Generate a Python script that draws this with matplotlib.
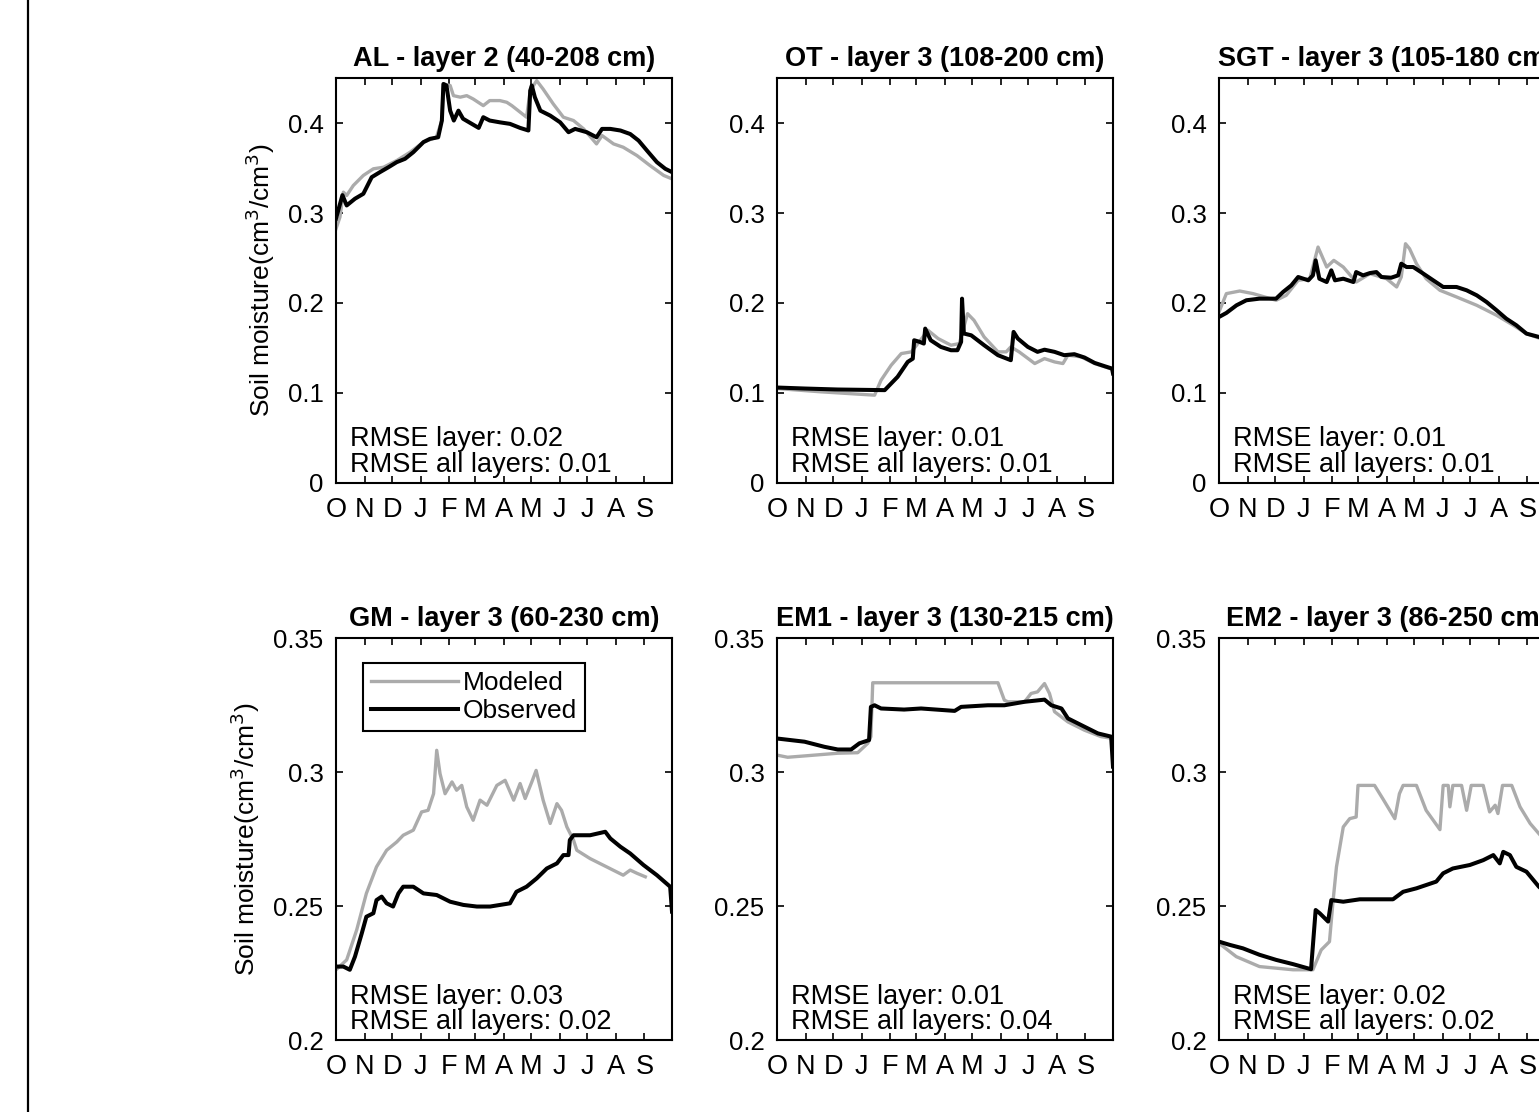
import matplotlib
matplotlib.use("Agg")
import matplotlib.pyplot as plt
from matplotlib.lines import Line2D
from matplotlib.ticker import FuncFormatter

plt.rcParams['font.family'] = ['Liberation Sans', 'DejaVu Sans']

# ---------------- data (day of water year, 0 = 1 Oct) ----------------
month_ticks = [0, 31, 61, 92, 123, 151, 182, 212, 243, 273, 304, 335]
month_labels = ['O', 'N', 'D', 'J', 'F', 'M', 'A', 'M', 'J', 'J', 'A', 'S']

titles = ['AL - layer 2 (40-208 cm)', 'OT - layer 3 (108-200 cm)', 'SGT - layer 3 (105-180 cm)',
          'GM - layer 3 (60-230 cm)', 'EM1 - layer 3 (130-215 cm)', 'EM2 - layer 3 (86-250 cm)']
rmse_layer = ['0.02', '0.01', '0.01', '0.03', '0.01', '0.02']
rmse_all = ['0.01', '0.01', '0.01', '0.02', '0.04', '0.02']

# AL
al_obs_d = [0, 7, 11.6, 20.6, 29.7, 38.8, 47.8, 56.9, 66, 75, 84, 95, 102, 111, 115, 116.7, 120, 124, 128,
            133, 138, 147.5, 155, 160, 167, 178, 189, 200, 209, 211, 212.7, 216, 222, 232.7, 243.5, 252.6,
            259.8, 272.5, 283, 289, 298, 309, 319.6, 328.7, 337.8, 348.6, 357.7, 365]
al_obs_v = [0.294, 0.320, 0.3085, 0.316, 0.3215, 0.340, 0.3456, 0.351, 0.3567, 0.3604, 0.3678, 0.379,
            0.3826, 0.3844, 0.403, 0.4437, 0.442, 0.414, 0.403, 0.414, 0.405, 0.3993, 0.3948, 0.4067, 0.403,
            0.401, 0.3993, 0.3948, 0.3919, 0.4363, 0.442, 0.429, 0.414, 0.4085, 0.401, 0.390, 0.3937, 0.390,
            0.3844, 0.3937, 0.3937, 0.3919, 0.388, 0.3807, 0.3696, 0.3567, 0.3493, 0.3456]
al_mod_d = [0, 4.3, 8, 11.6, 18.8, 29.7, 40.6, 51.5, 66, 80.5, 95, 109, 115, 116.7, 124, 127.6, 135, 142,
            149, 160, 167, 178, 185.5, 191, 207, 211, 218, 225, 236, 247, 258, 269, 283, 289, 301.5, 312,
            327, 341, 356, 365]
al_mod_v = [0.2826, 0.2956, 0.3233, 0.3196, 0.3307, 0.3419, 0.3493, 0.351, 0.3585, 0.3678, 0.379, 0.3844,
            0.403, 0.4437, 0.442, 0.4307, 0.429, 0.4307, 0.427, 0.4196, 0.4252, 0.4252, 0.4233, 0.4196,
            0.4067, 0.4363, 0.4474, 0.438, 0.4215, 0.4067, 0.403, 0.3937, 0.377, 0.3863, 0.377, 0.3733,
            0.364, 0.353, 0.3419, 0.3381]

# OT
ot_obs_d = [0, 30, 66, 117, 131, 142, 147.5, 149, 155, 159.5, 161, 167, 178, 189, 196, 200, 201, 203, 211,
            225, 240, 254, 257, 261.6, 272.5, 283, 290.6, 301.5, 312, 323, 334, 345, 356, 364, 365]
ot_obs_v = [0.1059, 0.1048, 0.1037, 0.103, 0.1178, 0.1344, 0.138, 0.1585, 0.1567, 0.1548, 0.1715, 0.1585,
            0.1511, 0.1474, 0.1474, 0.1567, 0.2048, 0.166, 0.164, 0.153, 0.1419, 0.1363, 0.1678, 0.1604,
            0.1511, 0.1456, 0.148, 0.1456, 0.1419, 0.143, 0.1393, 0.1333, 0.1296, 0.127, 0.1215]
ot_mod_d = [0, 48, 106, 113, 124, 135, 146, 153, 164, 175, 189, 198, 207, 214, 225, 240, 249, 254, 263,
            280, 290.6, 301.5, 310.6, 316, 330.5, 345, 365]
ot_mod_v = [0.1048, 0.1011, 0.0974, 0.114, 0.1307, 0.1437, 0.1456, 0.1548, 0.1696, 0.1604, 0.153, 0.1548,
            0.1881, 0.1807, 0.1622, 0.1456, 0.1456, 0.1511, 0.1456, 0.1326, 0.1381, 0.1344, 0.1326, 0.1419,
            0.140, 0.1326, 0.126]

# SGT
sgt_obs_d = [0, 8, 19, 29.7, 44, 62, 69.6, 78.6, 86, 97, 102, 105, 109, 117, 122, 126, 135, 146, 149,
             156.5, 164, 171, 176.5, 187, 194.6, 198, 203.7, 211, 222, 232.7, 243.5, 258, 269, 280, 290.6,
             301.5, 312, 323, 334, 347.5, 365]
sgt_obs_v = [0.1844, 0.1889, 0.1974, 0.203, 0.2048, 0.2048, 0.2122, 0.2196, 0.2289, 0.2252, 0.2307,
             0.2474, 0.227, 0.2233, 0.2363, 0.2252, 0.227, 0.2233, 0.2344, 0.2307, 0.2333, 0.2344, 0.2289,
             0.2281, 0.2307, 0.2437, 0.240, 0.240, 0.2326, 0.2252, 0.2178, 0.2178, 0.2141, 0.2085, 0.2011,
             0.1919, 0.1826, 0.1752, 0.1659, 0.1622, 0.158]
sgt_mod_d = [0, 8, 22.5, 37, 62, 73, 86, 98.6, 107.6, 117, 124.7, 135, 149, 164, 182, 193, 198, 202.6,
             207, 214.5, 225, 240, 258, 280, 301.5, 319.6, 334, 347.5, 365]
sgt_mod_v = [0.190, 0.2104, 0.2133, 0.2104, 0.203, 0.2085, 0.2252, 0.227, 0.2622, 0.240, 0.2474, 0.240,
             0.2233, 0.2326, 0.227, 0.2178, 0.2289, 0.2659, 0.2604, 0.2437, 0.227, 0.2141, 0.2067, 0.1974,
             0.1863, 0.1752, 0.1659, 0.161, 0.156]

# GM
gm_obs_d = [0, 8, 15, 20.6, 28, 33, 40.6, 44, 49.6, 55, 62, 67.8, 73, 84, 95, 109.4, 124, 138.4, 153,
            167.4, 189, 196, 207, 218, 229, 240, 247, 252.6, 254, 258, 276, 292.5, 298, 309, 319.6, 334,
            348.6, 363, 365]
gm_obs_v = [0.2274, 0.2274, 0.2262, 0.2311, 0.2398, 0.246, 0.2473, 0.2522, 0.2535, 0.251, 0.2498, 0.2547,
            0.2572, 0.2572, 0.2547, 0.2541, 0.2516, 0.2504, 0.2498, 0.2498, 0.251, 0.2553, 0.2572, 0.2603,
            0.264, 0.2659, 0.269, 0.269, 0.2746, 0.2764, 0.2764, 0.2777, 0.2752, 0.2721, 0.2696, 0.2653,
            0.2615, 0.2572, 0.2479]
gm_mod_d = [0, 11.6, 22.5, 33, 44, 55, 66, 73, 84, 93, 100, 106, 109.4, 113, 118.5, 126, 131, 136.6, 142,
            149, 156.5, 164, 174.7, 183.7, 193, 200, 205.5, 212.7, 217.4, 225, 232.7, 240, 245, 250.8, 258,
            261.6, 276, 294, 312, 319.6, 327, 336]
gm_mod_v = [0.2262, 0.2299, 0.2411, 0.2547, 0.2646, 0.2708, 0.2739, 0.2764, 0.2783, 0.2851, 0.2857,
            0.2919, 0.3081, 0.2994, 0.2919, 0.2963, 0.2932, 0.295, 0.287, 0.282, 0.2895, 0.2876, 0.295,
            0.2969, 0.2895, 0.2957, 0.2901, 0.2963, 0.3006, 0.2895, 0.2808, 0.2882, 0.2857, 0.2795, 0.2746,
            0.2708, 0.2677, 0.2646, 0.2615, 0.2634, 0.2622, 0.2609]

# EM1
em1_obs_d = [0, 30, 51.5, 66, 80.5, 89.5, 100, 102, 106, 113, 138, 156.5, 193, 200, 229, 247, 269, 290.6,
             298, 309, 316, 330.5, 348.6, 363, 365]
em1_obs_v = [0.3125, 0.3113, 0.3094, 0.3084, 0.3084, 0.3107, 0.3119, 0.3243, 0.3249, 0.3237, 0.3233,
             0.3237, 0.3228, 0.3243, 0.3249, 0.3249, 0.3262, 0.327, 0.3249, 0.3237, 0.320, 0.3175, 0.3144,
             0.3132, 0.302]
em1_mod_d = [0, 11.6, 30, 66, 87.7, 98.6, 102, 104, 240, 247, 250.8, 269, 276, 283, 290.6, 296, 301.5,
             316, 334, 352, 365]
em1_mod_v = [0.3063, 0.3055, 0.306, 0.307, 0.3072, 0.3107, 0.3132, 0.3333, 0.3333, 0.3268, 0.3262, 0.3262,
             0.3293, 0.3299, 0.333, 0.3293, 0.3225, 0.3187, 0.3156, 0.3132, 0.3125]

# EM2
em2_obs_d = [0, 11.6, 26, 44, 62, 80.5, 100, 105, 109.4, 118.5, 122, 135, 153, 171, 189, 200, 214.5, 236,
             243.5, 254, 272.5, 287, 298, 305, 308.8, 316, 323, 334, 347.5, 365]
em2_obs_v = [0.2367, 0.2355, 0.2342, 0.2318, 0.2299, 0.2283, 0.2264, 0.2485, 0.2473, 0.2442, 0.2522,
             0.2516, 0.2525, 0.2525, 0.2525, 0.2553, 0.2566, 0.2591, 0.2622, 0.264, 0.2653, 0.2671, 0.269,
             0.2659, 0.2702, 0.269, 0.2646, 0.2628, 0.2572, 0.252]
em2_mod_d = [0, 18.8, 44, 80.5, 102, 111, 120, 124, 127.6, 135, 142, 149, 151, 169, 178, 191, 196, 200,
             214.5, 225, 240, 243.5, 249, 250.8, 254, 263.5, 269, 274, 287, 294, 300, 303, 308, 318, 327,
             338, 347.5, 365]
em2_mod_v = [0.2361, 0.2311, 0.2274, 0.2262, 0.2262, 0.2336, 0.2367, 0.2522, 0.2646, 0.2795, 0.2826,
             0.2832, 0.295, 0.295, 0.290, 0.2826, 0.2919, 0.295, 0.295, 0.2857, 0.2785, 0.295, 0.295, 0.287,
             0.295, 0.295, 0.2857, 0.295, 0.295, 0.2851, 0.2876, 0.2845, 0.295, 0.295, 0.287, 0.2808, 0.277,
             0.270]

panels = [
    (al_mod_d, al_mod_v, al_obs_d, al_obs_v),
    (ot_mod_d, ot_mod_v, ot_obs_d, ot_obs_v),
    (sgt_mod_d, sgt_mod_v, sgt_obs_d, sgt_obs_v),
    (gm_mod_d, gm_mod_v, gm_obs_d, gm_obs_v),
    (em1_mod_d, em1_mod_v, em1_obs_d, em1_obs_v),
    (em2_mod_d, em2_mod_v, em2_obs_d, em2_obs_v),
]
top_yticks = [0, 0.1, 0.2, 0.3, 0.4]
bot_yticks = [0.2, 0.25, 0.3, 0.35]

# ---------------- layout ----------------
W, H = 1539, 1112
fig = plt.figure(figsize=(W / 100, H / 100), dpi=100)
col_left = [336, 777, 1219]
ax_w = 336
rows = [(78.3, 482.7), (638, 1040)]

grey = '#ababab'
fmt = FuncFormatter(lambda v, p: ('%g' % v))

for i, (md, mv, od, ov) in enumerate(panels):
    r, c = divmod(i, 3)
    top, bot = rows[r]
    ax = fig.add_axes([col_left[c] / W, 1 - bot / H, ax_w / W, (bot - top) / H])
    lm, = ax.plot(md, mv, color=grey, lw=2.4, solid_joinstyle='round')
    lo, = ax.plot(od, ov, color='black', lw=2.9, solid_joinstyle='round')
    ax.set_xlim(0, 365)
    if r == 0:
        ax.set_ylim(0, 0.45)
        ax.set_yticks(top_yticks)
    else:
        ax.set_ylim(0.2, 0.35)
        ax.set_yticks(bot_yticks)
    ax.yaxis.set_major_formatter(fmt)
    ax.set_xticks(month_ticks)
    ax.set_xticklabels(month_labels)
    ax.tick_params(axis='both', direction='in', top=True, right=True, length=5, width=1.2,
                   colors='black')
    ax.tick_params(axis='y', pad=9, labelsize=18.5)
    ax.tick_params(axis='x', pad=10, labelsize=19.5)
    for s in ax.spines.values():
        s.set_linewidth(1.5)
    ax.set_title(titles[i], fontsize=19.5, fontweight='bold', pad=9)
    ax.text(0.043, 0.012, 'RMSE layer: %s\nRMSE all layers: %s' % (rmse_layer[i], rmse_all[i]),
            transform=ax.transAxes, fontsize=19.5, ha='left', va='bottom', linespacing=0.98)
    if c == 0:
        ax.set_ylabel('Soil moisture(cm$^3$/cm$^3$)', fontsize=19, labelpad=8)
    if i == 3:
        leg = ax.legend([lm, lo], ['Modeled', 'Observed'], loc='upper left',
                        bbox_to_anchor=(0.08, 0.937), borderaxespad=0, fontsize=19,
                        handlelength=3.3, handletextpad=0.2, labelspacing=0.15, borderpad=0.3,
                        fancybox=False, framealpha=1, edgecolor='black')
        leg.get_frame().set_linewidth(1.5)

fig.add_artist(Line2D([28 / W, 28 / W], [0, 1], transform=fig.transFigure, color='black', lw=1.6))

fig.savefig('out.png', dpi=100)
